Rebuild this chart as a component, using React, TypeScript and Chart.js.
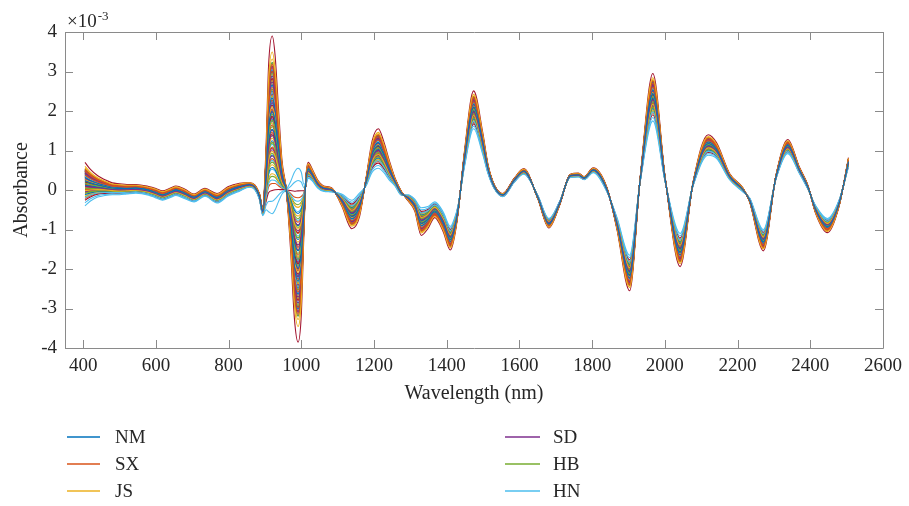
import React, { useEffect, useRef } from "react";
import { Chart, registerables } from "chart.js";

Chart.register(...registerables);

// Wavelength sample points (nm)
const wavelengths = [
  405, 420, 440, 460, 480, 500, 520, 545, 580, 600, 618, 640, 655, 680, 705, 735, 768, 798, 830, 857, 872, 885, 894,
  903, 910, 920, 928, 937, 947, 958, 970, 981, 991, 1000, 1007, 1013, 1019, 1030, 1045, 1060, 1084, 1111, 1139, 1160,
  1178, 1195, 1212, 1226, 1242, 1258, 1275, 1294, 1312, 1330, 1348, 1367, 1390, 1410, 1420, 1431, 1449, 1474, 1499,
  1513, 1531, 1554, 1586, 1612, 1650, 1681, 1710, 1740, 1762, 1778, 1803, 1841, 1868, 1903, 1932, 1967, 2001, 2042,
  2078, 2119, 2142, 2178, 2215, 2233, 2271, 2306, 2338, 2370, 2393, 2415, 2447, 2479, 2505,
];

// Central (typical) absorbance curve, x10^-3
const meanAbs = [
  0.15, 0.12, 0.09, 0.06, 0.03, 0.02, 0.02, 0.03, -0.02, -0.08, -0.14, -0.07, -0.02, -0.1, -0.2, -0.06, -0.21, -0.04, 0.07, 0.13, 0.07, -0.17, -0.55,
  0.3, 1.3, 1.65, 1.45, 0.9, 0.32, 0.03, -0.62, -1.4, -1.65, -1.35, -0.5, 0.25, 0.5, 0.38, 0.15, 0.04, 0.0, -0.25, -0.62, -0.38,
  0.2, 0.85, 1.05, 0.85, 0.5, 0.2, -0.08, -0.2, -0.38, -0.8, -0.7, -0.5, -0.8, -1.22, -1.0, -0.5, 0.8, 2.03, 1.18,
  0.55, 0.08, -0.13, 0.25, 0.47, -0.17, -0.84, -0.35, 0.36, 0.38, 0.3, 0.5, 0.0, -0.84, -2.1, 0.25, 2.35, 0.25, -1.52,
  0.17, 1.14, 1.0, 0.34, 0.0, -0.25, -1.27, 0.34, 1.1, 0.5, 0.08, -0.5, -0.9, -0.34, 0.7,
];

// Half-width of the spectral band (signed: sign tells which samples lie above)
const spreadAbs = [
  0.55, 0.4, 0.27, 0.2, 0.15, 0.14, 0.12, 0.11, 0.11, 0.12, 0.12, 0.12, 0.12, 0.12, 0.1, 0.1, 0.12, 0.12, 0.1, 0.06, 0.06, 0.08, 0.1,
  0.8, 1.85, 2.25, 1.95, 1.2, 0.42, 0.03, -0.82, -1.85, -2.2, -1.8, -0.65, 0.1, 0.2, 0.15, 0.1, 0.07, 0.05, -0.15, -0.36, -0.3,
  0.1, 0.4, 0.5, 0.4, 0.25, 0.1, 0.05, -0.08, -0.15, -0.35, -0.28, -0.2, -0.25, -0.3, -0.25, -0.1, 0.2, 0.48, 0.28,
  0.12, 0.05, 0.04, 0.05, 0.07, -0.04, -0.12, -0.05, 0.04, 0.05, 0.04, 0.06, 0.05, -0.15, -0.45, 0.05, 0.6, 0.05, -0.42,
  0.05, 0.26, 0.2, 0.08, 0.05, -0.05, -0.27, 0.05, 0.18, 0.08, 0.05, -0.1, -0.18, -0.08, 0.12,
];

// Position of each sample spectrum inside the band (-1 = lower edge, 1 = upper edge)
const sampleWeights = [
  0.15, 0.42, 0.82, -0.12, 0.05, -1.0, 1.0,
  0.3, 0.6, -0.3, 0.48, -0.2, 0.36, 0.1,
  -0.05, 0.68, 0.2, 0.55, -0.42, -0.86, 0.36,
  0.62, -0.25, 0.74, 0.25, 0.4, 0.05, -0.1,
  0.45, 0.0, 0.33, -0.35, 0.58, -0.62, 0.52,
  -0.48, 0.28, -0.15, 0.65, 0.12, 0.44, 0.22,
  0.38, -0.38, 0.5, 0.08, 0.7, -0.22, -0.74,
  0.55, 0.18, -0.45, 0.35, -0.02, 0.26, 0.44,
  -0.18, 0.64, 0.02, 0.27, -0.32, 0.58, 0.6,
  0.06, -0.08, 0.46, -0.28, 0.32, -0.4, 0.16,
  0.24, 0.52, -0.55, 0.14, 0.48, 0.12, -0.26,
  -0.34, 0.09, 0.57, 0.4, -0.12, 0.3, 0.66,
  0.5, -0.66, 0.28, -0.06, 0.22, -0.5, 0.34,
  0.7, 0.34, -0.2, 0.6, -0.58, 0.18, 0.04,
];

const seriesColors = ["#0072BD", "#D95319", "#EDB120", "#7E2F8E", "#77AC30", "#4DBEEE", "#A2142F"];
const legendLabels = ["NM", "SX", "JS", "SD", "HB", "HN"];
const xTicks = [400, 600, 800, 1000, 1200, 1400, 1600, 1800, 2000, 2200, 2400, 2600];
const yTicks = [-4, -3, -2, -1, 0, 1, 2, 3, 4];

const FONT = '"Liberation Serif", "DejaVu Serif", serif';
const TEXT = "#262626";
const AXIS = "#8a8a8a";

const framePlugin = {
  id: "matlabFrame",
  afterDraw(chart: any) {
    const { ctx, chartArea, scales } = chart;
    const { left, right, top, bottom } = chartArea;
    ctx.save();
    ctx.strokeStyle = AXIS;
    ctx.lineWidth = 1;
    ctx.beginPath();
    ctx.rect(Math.round(left) + 0.5, Math.round(top) + 0.5, Math.round(right - left), Math.round(bottom - top));
    ctx.stroke();
    const tl = 8;
    ctx.beginPath();
    xTicks.forEach((v) => {
      const px = Math.round(scales.x.getPixelForValue(v)) + 0.5;
      ctx.moveTo(px, bottom);
      ctx.lineTo(px, bottom - tl);
      ctx.moveTo(px, top);
      ctx.lineTo(px, top + tl);
    });
    yTicks.forEach((v) => {
      const py = Math.round(scales.y.getPixelForValue(v)) + 0.5;
      ctx.moveTo(left, py);
      ctx.lineTo(left + tl, py);
      ctx.moveTo(right, py);
      ctx.lineTo(right - tl, py);
    });
    ctx.stroke();

    // exponent label
    ctx.fillStyle = TEXT;
    ctx.textBaseline = "alphabetic";
    ctx.textAlign = "left";
    ctx.font = `19px ${FONT}`;
    ctx.fillText("\u00d710", 67, 27);
    const w = ctx.measureText("\u00d710").width;
    ctx.font = `13px ${FONT}`;
    ctx.fillText("-3", 67 + w + 1, 20);

    // axis titles
    ctx.font = `20px ${FONT}`;
    ctx.textAlign = "center";
    ctx.textBaseline = "middle";
    ctx.fillText("Wavelength (nm)", (left + right) / 2, 394);
    ctx.save();
    ctx.translate(22, (top + bottom) / 2);
    ctx.rotate(-Math.PI / 2);
    ctx.fillText("Absorbance", 0, 0);
    ctx.restore();

    // legend (two columns, column-major)
    const rows = [437, 464, 491];
    const cols = [
      { x0: 67, x1: 100, tx: 115 },
      { x0: 505, x1: 540, tx: 553 },
    ];
    ctx.font = `19px ${FONT}`;
    ctx.textAlign = "left";
    legendLabels.forEach((label, i) => {
      const c = cols[Math.floor(i / 3)];
      const y = rows[i % 3];
      ctx.strokeStyle = seriesColors[i];
      ctx.lineWidth = 1.6;
      ctx.beginPath();
      ctx.moveTo(c.x0, y);
      ctx.lineTo(c.x1, y);
      ctx.stroke();
      ctx.fillStyle = TEXT;
      ctx.fillText(label, c.tx, y + 1);
    });
    ctx.restore();
  },
};

export default function App() {
  const canvasRef = useRef<HTMLCanvasElement | null>(null);

  useEffect(() => {
    if (!canvasRef.current) return;
    const datasets = sampleWeights.map((wt, i) => ({
      label: i < legendLabels.length ? legendLabels[i] : `sample ${i + 1}`,
      data: wavelengths.map((x, j) => ({ x, y: meanAbs[j] + wt * spreadAbs[j] })),
      borderColor: seriesColors[i % seriesColors.length],
      backgroundColor: seriesColors[i % seriesColors.length],
      borderWidth: 1.1,
      pointRadius: 0,
      fill: false,
      cubicInterpolationMode: "monotone" as const,
    }));

    const chart = new Chart(canvasRef.current, {
      type: "line",
      data: { datasets },
      plugins: [framePlugin],
      options: {
        animation: false,
        responsive: false,
        devicePixelRatio: 1,
        layout: { padding: { top: 32, right: 22, left: 0, bottom: 0 } },
        plugins: { legend: { display: false }, tooltip: { enabled: false } },
        events: [],
        scales: {
          x: {
            type: "linear",
            min: 350,
            max: 2600,
            afterBuildTicks: (s: any) => {
              s.ticks = xTicks.map((v) => ({ value: v }));
            },
            afterFit: (s: any) => {
              s.height = 158;
            },
            grid: { display: false, drawTicks: false },
            border: { display: false },
            ticks: {
              autoSkip: false,
              maxRotation: 0,
              padding: 7,
              color: TEXT,
              font: { family: FONT, size: 19 },
              callback: (v: any) => String(v),
            },
          },
          y: {
            type: "linear",
            min: -4,
            max: 4,
            afterBuildTicks: (s: any) => {
              s.ticks = yTicks.map((v) => ({ value: v }));
            },
            afterFit: (s: any) => {
              s.width = 65;
            },
            grid: { display: false, drawTicks: false },
            border: { display: false },
            ticks: {
              autoSkip: false,
              padding: 8,
              color: TEXT,
              font: { family: FONT, size: 19 },
              callback: (v: any) => String(v),
            },
          },
        },
      },
    });
    return () => chart.destroy();
  }, []);

  return (
    <div style={{ position: "fixed", left: 0, top: 0, width: 909, height: 506, background: "#fff" }}>
      <canvas ref={canvasRef} width={909} height={506} style={{ width: 909, height: 506 }} />
    </div>
  );
}
